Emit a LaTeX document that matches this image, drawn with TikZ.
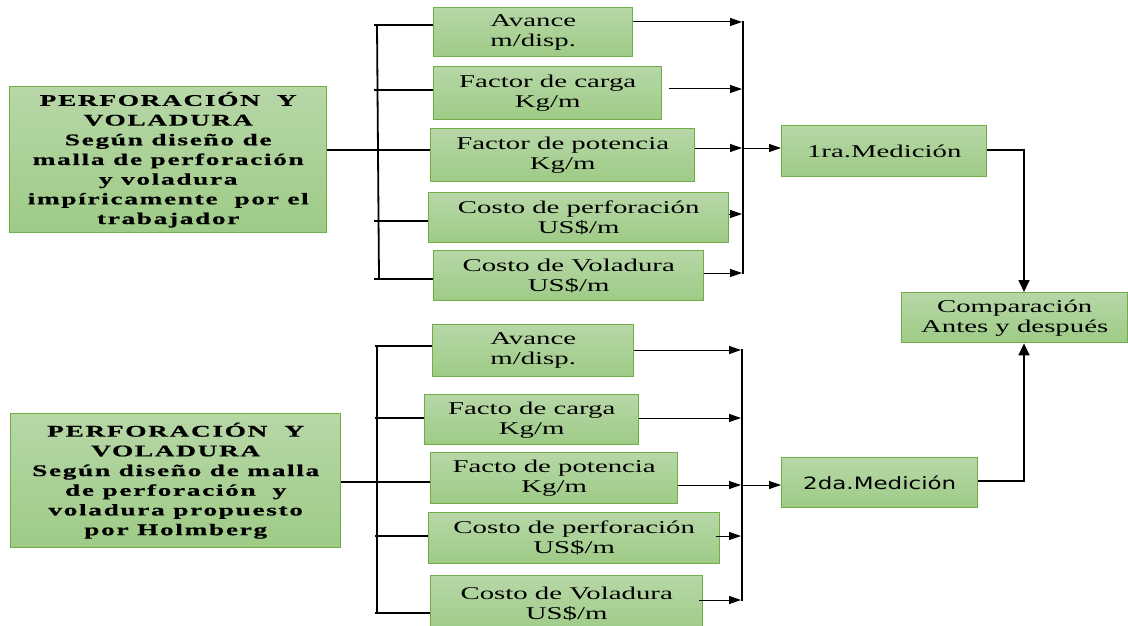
\documentclass[tikz,border=0pt]{standalone}
\usepackage{fontspec}
\setmainfont{Liberation Serif}[FakeStretch=1.6]
\newfontfamily\bigbold{Liberation Serif}[FakeStretch=1.68,LetterSpace=10,FakeBold=0.6]
\newfontfamily\sanswide{DejaVu Sans}[FakeStretch=1.35]
\usetikzlibrary{arrows.meta}
\definecolor{gtop}{RGB}{183,215,167}
\definecolor{gbot}{RGB}{158,203,134}
\definecolor{gborder}{RGB}{112,173,71}
\begin{document}
\begin{tikzpicture}[x=1pt,y=-1pt,
  box/.style={draw=gborder, line width=1.4pt, top color=gtop, bottom color=gbot,
    align=center, inner sep=0pt, anchor=north west,
    font=\fontsize{18}{20}\selectfont},
  bigbox/.style={box, font=\bigbold\bfseries\fontsize{16.3}{19.7}\selectfont},
  br/.style={line width=1.8pt},
  arr/.style={line width=1pt, -{Triangle[length=12pt,width=8pt]}},
  arrb/.style={line width=1.6pt, -{Triangle[length=12pt,width=11pt]}},
]
\useasboundingbox (0,0) rectangle (1128,626);

% ---------- top group ----------
\node[bigbox, minimum width=317, minimum height=146] (P1) at (9,86)
  {PERFORACIÓN\ \ Y\\VOLADURA\\Según diseño de\\malla de perforación\\y voladura\\impíricamente\ \ por el\\trabajador};

\node[box, minimum width=199, minimum height=49] (a1) at (433,7) {Avance\\m/disp.};
\node[box, minimum width=228, minimum height=53] (a2) at (433,66) {Factor de carga\\Kg/m};
\node[box, minimum width=264, minimum height=53] (a3) at (430,128) {Factor de potencia\\Kg/m};
\node[box, minimum width=300, minimum height=50] (a4) at (428,192) {Costo de perforación\\US\$/m};
\node[box, minimum width=270, minimum height=50] (a5) at (433,250) {Costo de Voladura\\US\$/m};

\coordinate (l11) at (374,25);
\coordinate (l12) at (374,90);
\coordinate (l13) at (374,150);
\coordinate (l14) at (374,221);
\coordinate (l15) at (374,279);
\draw[br] (377,25) -- (379,279);
\draw[br] (l11) -- (l11 -| a1.west);
\draw[br] (l12) -- (l12 -| a2.west);
\draw[br] (P1.east |- l13) -- (l13 -| a3.west);
\draw[br] (l14) -- (l14 -| a4.west);
\draw[br] (l15) -- (l15 -| a5.west);

\coordinate (r11) at (742,22);
\coordinate (r12) at (742,89);
\coordinate (r13) at (742,148);
\coordinate (r14) at (742,214);
\coordinate (r15) at (742,273);
\draw[br] (743,21) -- (743,274);
\draw[arr] (a1.east |- r11) -- (r11);
\draw[arr] ([xshift=7pt]a2.east |- r12) -- (r12);
\draw[arr] (a3.east |- r13) -- (r13);
\draw[arr] (a4.east |- r14) -- (r14);
\draw[arr] (a5.east |- r15) -- (r15);

\node[box, minimum width=205, minimum height=51] (m1) at (781,125) {1ra.Medición};
\draw[arr] (r13) -- (r13 -| m1.west);

% ---------- comparison ----------
\node[box, minimum width=226, minimum height=50] (cmp) at (901,292) {Comparación\\Antes y después};
\coordinate (c1) at (1024,150);
\draw[arrb] (m1.east |- c1) -- (c1) -- (c1 |- cmp.north);

% ---------- bottom group ----------
\node[bigbox, minimum width=330, minimum height=134] (P2) at (10,413)
  {PERFORACIÓN\ \ Y\\VOLADURA\\Según diseño de malla\\de perforación\ \ y\\voladura propuesto\\por Holmberg};

\node[box, minimum width=201, minimum height=52] (b1) at (432,324) {Avance\\m/disp.};
\node[box, minimum width=214, minimum height=50] (b2) at (424,394) {Facto de carga\\Kg/m};
\node[box, minimum width=247, minimum height=51] (b3) at (430,452) {Facto de potencia\\Kg/m};
\node[box, minimum width=291, minimum height=51] (b4) at (428,512) {Costo de perforación\\US\$/m};
\node[box, minimum width=272, minimum height=56] (b5) at (430,575) {Costo de Voladura\\US\$/m};

\coordinate (l21) at (375,346);
\coordinate (l22) at (375,418);
\coordinate (l23) at (375,482);
\coordinate (l24) at (375,536);
\coordinate (l25) at (375,613);
\draw[br] (377,346) -- (377,613);
\draw[br] (l21) -- (l21 -| b1.west);
\draw[br] (l22) -- (l22 -| b2.west);
\draw[br] (P2.east |- l23) -- (l23 -| b3.west);
\draw[br] (l24) -- (l24 -| b4.west);
\draw[br] (l25) -- (l25 -| b5.west);

\coordinate (r21) at (741,350);
\coordinate (r22) at (741,418);
\coordinate (r23) at (741,485);
\coordinate (r24) at (741,536);
\coordinate (r25) at (741,600);
\draw[br] (742,349) -- (742,601);
\draw[arr] (b1.east |- r21) -- (r21);
\draw[arr] (b2.east |- r22) -- (r22);
\draw[arr] (b3.east |- r23) -- (r23);
\draw[arr] ([xshift=-4pt]b4.east |- r24) -- (r24);
\draw[arr] ([xshift=-4pt]b5.east |- r25) -- (r25);

\node[box, minimum width=196, minimum height=50, font=\sanswide\fontsize{17}{20}\selectfont] (m2) at (781,457) {2da.Medición};
\draw[arr] (r23) -- (r23 -| m2.west);

\coordinate (c2) at (1024,481);
\draw[arrb] (m2.east |- c2) -- (c2) -- (c2 |- cmp.south);
\end{tikzpicture}
\end{document}
